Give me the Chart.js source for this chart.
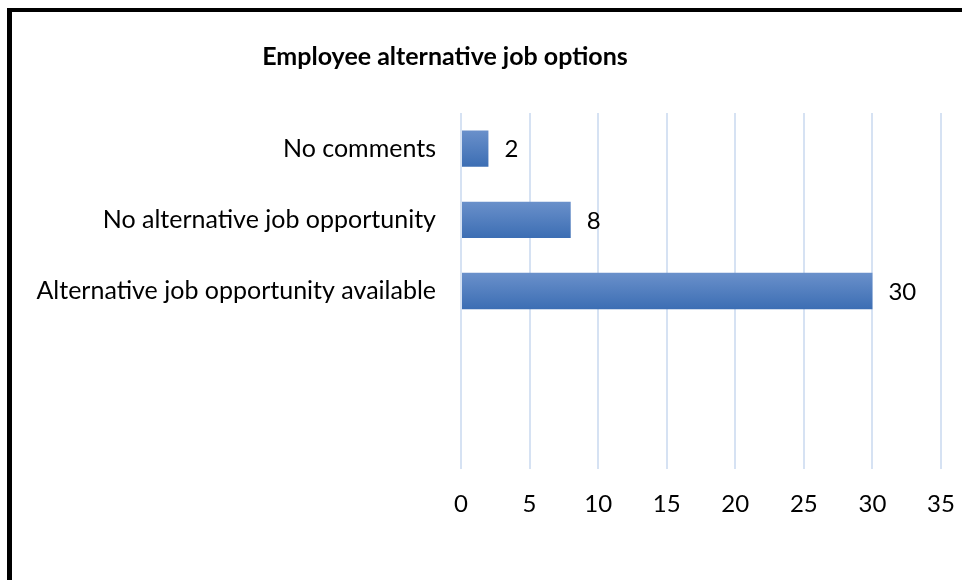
<!DOCTYPE html>
<html>
<head>
<meta charset="utf-8">
<script src="https://cdn.jsdelivr.net/npm/chart.js@4/dist/chart.umd.min.js"></script>
<style>
  body { margin: 0; background: #fff; }
  #frame {
    position: absolute; left: 7px; top: 8px;
    width: 950px; height: 568px;
    border-left: 5px solid #000; border-top: 4px solid #000;
  }
  canvas { display: block; }
</style>
</head>
<body>
<div id="frame"><canvas id="chart" width="950" height="568"></canvas></div>
<script>
// answers, top to bottom (last two rows are left empty)
var categories = ['No comments', 'No alternative job opportunity', 'Alternative job opportunity available', '', ''];
var counts = [2, 8, 30, null, null];
var axisMin = 0;
var axisMax = 35;
var axisStep = 5;
var chartTitle = 'Employee alternative job options';

var labelFont = 'Lato, "Open Sans", sans-serif';

function barFill(ctx) {
    var chart = ctx.chart;
    var yScale = chart.scales.y;
    if (!chart.chartArea || !yScale || ctx.dataIndex === undefined) {
        return '#4f81bd';
    }
    var mid = yScale.getPixelForValue(ctx.dataIndex);
    var half = 19;
    var g = chart.ctx.createLinearGradient(0, mid - half, 0, mid + half);
    g.addColorStop(0, '#6b91cb');
    g.addColorStop(1, '#3b6db3');
    return g;
}

// draws the title and the value beside each bar
var extras = {
    id: 'extras',
    afterDatasetsDraw: function(chart) {
        var c = chart.ctx;
        c.save();
        c.fillStyle = '#000';
        c.font = 'bold 25px ' + labelFont;
        c.textAlign = 'center';
        c.textBaseline = 'middle';
        c.fillText(chartTitle, 433, 45);

        c.font = '24px ' + labelFont;
        c.textAlign = 'left';
        var meta = chart.getDatasetMeta(0);
        meta.data.forEach(function(bar, i) {
            if (counts[i] === null) return;
            c.fillText(String(counts[i]), bar.x + 16, bar.y + 1);
        });
        c.restore();
    }
};

var chart = new Chart(document.getElementById('chart'), {
    type: 'bar',
    data: {
        labels: categories,
        datasets: [{
            data: counts,
            backgroundColor: barFill,
            borderWidth: 0,
            categoryPercentage: 1,
            barPercentage: 0.51
        }]
    },
    options: {
        indexAxis: 'y',
        responsive: false,
        animation: false,
        layout: { padding: { top: 101, right: 21, left: 0, bottom: 0 } },
        plugins: {
            legend: { display: false },
            title: { display: false },
            tooltip: { enabled: false }
        },
        scales: {
            x: {
                min: axisMin,
                max: axisMax,
                ticks: {
                    stepSize: axisStep,
                    color: '#000',
                    padding: 21,
                    font: { family: labelFont, size: 24 }
                },
                grid: { color: '#d6e2f3', lineWidth: 2, drawTicks: false },
                border: { display: false },
                afterFit: function(scale) {
                    scale.height = 111;
                    scale.paddingLeft = 0;
                    scale.paddingRight = 0;
                }
            },
            y: {
                ticks: {
                    color: '#000',
                    padding: 25,
                    font: { family: labelFont, size: 25 }
                },
                grid: { display: false, drawTicks: false },
                border: { display: false },
                afterFit: function(scale) { scale.width = 449; }
            }
        }
    },
    plugins: [extras]
});
</script>
</body>
</html>
